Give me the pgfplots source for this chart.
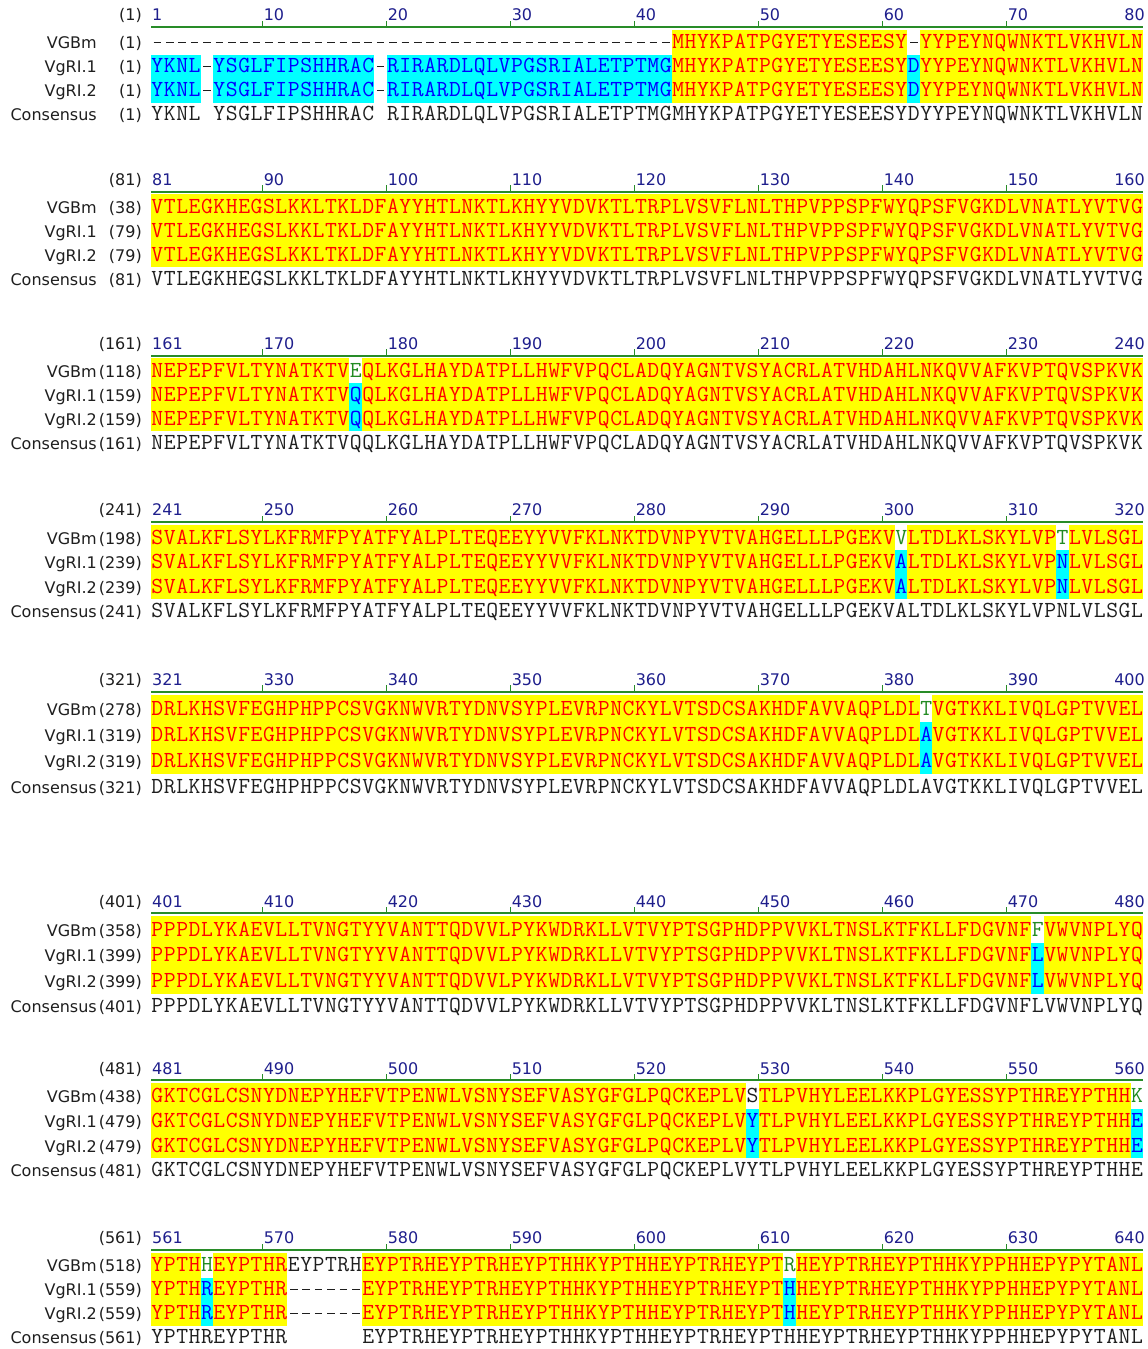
\documentclass[border=0pt]{standalone}
\usepackage{pgfplots}
\pgfplotsset{compat=1.18}
\usepackage{fontspec}
\setmainfont{DejaVu Sans}
\newfontfamily\labfam{DejaVu Sans}
\definecolor{sred}{RGB}{255,0,0}
\definecolor{sblue}{RGB}{0,0,255}
\definecolor{sgreen}{RGB}{34,139,34}
\definecolor{sblack}{RGB}{30,30,30}
\definecolor{ybg}{RGB}{255,255,0}
\definecolor{cbg}{RGB}{0,255,255}
\definecolor{rulec}{RGB}{40,140,40}
\definecolor{numc}{RGB}{30,30,140}
\definecolor{labc}{RGB}{30,30,30}
\newcommand{\seqf}{\ttfamily\fontsize{23pt}{24pt}\selectfont}
\newcommand{\lf}{\labfam\fontsize{16pt}{19pt}\selectfont}
\def\seqchar#1{\ifx#1_\else\ifx#1-\raise5.5pt\hbox{\vrule width 7.5pt height 1.3pt depth 0pt}\else#1\fi\fi}
\def\seqloop#1{%
  \ifx#1\relax\else
    \hbox to 12.4pt{\hss\seqchar#1\hss}%
    \expandafter\seqloop
  \fi}
\newcommand{\sq}[1]{\seqloop#1\relax}
\newcommand{\Rd}[1]{\textcolor{sred}{\sq{#1}}}
\newcommand{\Bl}[1]{\textcolor{sblue}{\sq{#1}}}
\newcommand{\Gr}[1]{\textcolor{sgreen}{\sq{#1}}}
\newcommand{\Bk}[1]{\textcolor{sblack}{\sq{#1}}}
\tikzset{num/.style={anchor=base west, inner sep=0pt, font=\lf, text=numc},
         labn/.style={anchor=base east, inner sep=0pt, font=\lf, text=labc}}
\pgfplotsset{blk/.style={scale only axis, width=1148pt, xmin=0, xmax=1148, ymin=0,
  y dir=reverse, hide axis, clip=false, anchor=north west}}
\newcommand{\bgr}[5]{\addplot[fill=#1, draw=none] coordinates {(#2,#3) (#4,#3) (#4,#5) (#2,#5)} -- cycle;}
\newcommand{\row}[2]{\node[anchor=base west, inner sep=0pt, font=\seqf] at (axis cs:151,#1) {#2};}
\newcommand{\lab}[3]{\node[labn] at (axis cs:97,#1) {#2};\node[labn] at (axis cs:142,#1) {(#3)};}
\newcommand{\labs}[4]{\lab{48.5}{VGBm}{#1}\lab{72.5}{VgRI.1}{#2}\lab{96.5}{VgRI.2}{#3}\lab{120.5}{Consensus}{#4}}
\newcommand{\ruler}[9]{%
 \addplot[rulec, line width=2pt] coordinates {(151,26.7) (1143,26.7)};
 \addplot[rulec, line width=1.5pt] coordinates {(262.6,26.7) (262.6,20.5)};
 \addplot[rulec, line width=1.5pt] coordinates {(386.6,26.7) (386.6,20.5)};
 \addplot[rulec, line width=1.5pt] coordinates {(510.6,26.7) (510.6,20.5)};
 \addplot[rulec, line width=1.5pt] coordinates {(634.6,26.7) (634.6,20.5)};
 \addplot[rulec, line width=1.5pt] coordinates {(758.6,26.7) (758.6,20.5)};
 \addplot[rulec, line width=1.5pt] coordinates {(882.6,26.7) (882.6,20.5)};
 \addplot[rulec, line width=1.5pt] coordinates {(1006.6,26.7) (1006.6,20.5)};
 \node[num] at (axis cs:152,20.7) {#1};
 \node[num] at (axis cs:263.6,20.7) {#2};
 \node[num] at (axis cs:387.6,20.7) {#3};
 \node[num] at (axis cs:511.6,20.7) {#4};
 \node[num] at (axis cs:635.6,20.7) {#5};
 \node[num] at (axis cs:759.6,20.7) {#6};
 \node[num] at (axis cs:883.6,20.7) {#7};
 \node[num] at (axis cs:1007.6,20.7) {#8};
 \node[num, anchor=base east] at (axis cs:1145,20.7) {#9};
 \node[labn] at (axis cs:142,20.7) {(#1)};
}
\newcommand{\bbox}[1]{\addplot[draw=none] coordinates {(0,0) (1148,#1)};}
\begin{document}
\begin{tikzpicture}
% ---------------- block 1
\begin{axis}[blk, at={(0pt,0pt)}, height=130pt, ymax=130]
\bbox{130}
\bgr{ybg}{671.8}{29.5}{1143}{102.5}
\bgr{white}{907.4}{29.5}{919.8}{54.5}
\bgr{cbg}{151}{54.5}{200.6}{102.5}
\bgr{cbg}{213}{54.5}{374.2}{102.5}
\bgr{cbg}{386.6}{54.5}{671.8}{102.5}
\bgr{cbg}{907.4}{54.5}{919.8}{102.5}
\ruler{1}{10}{20}{30}{40}{50}{60}{70}{80}
\labs{1}{1}{1}{1}
\row{48.5}{\Bk{------------------------------------------}\Rd{MHYKPATPGYETYESEESY}\Bk{-}\Rd{YYPEYNQWNKTLVKHVLN}}
\row{72.5}{\Bl{YKNL}\Bk{-}\Bl{YSGLFIPSHHRAC}\Bk{-}\Bl{RIRARDLQLVPGSRIALETPTMG}\Rd{MHYKPATPGYETYESEESY}\Bl{D}\Rd{YYPEYNQWNKTLVKHVLN}}
\row{96.5}{\Bl{YKNL}\Bk{-}\Bl{YSGLFIPSHHRAC}\Bk{-}\Bl{RIRARDLQLVPGSRIALETPTMG}\Rd{MHYKPATPGYETYESEESY}\Bl{D}\Rd{YYPEYNQWNKTLVKHVLN}}
\row{120.5}{\Bk{YKNL_YSGLFIPSHHRAC_RIRARDLQLVPGSRIALETPTMGMHYKPATPGYETYESEESYDYYPEYNQWNKTLVKHVLN}}
\end{axis}
% ---------------- block 2
\begin{axis}[blk, at={(0pt,-164.8pt)}, height=130pt, ymax=130]
\bbox{130}
\bgr{ybg}{151}{29.5}{1143}{102.5}
\ruler{81}{90}{100}{110}{120}{130}{140}{150}{160}
\labs{38}{79}{79}{81}
\row{48.5}{\Rd{VTLEGKHEGSLKKLTKLDFAYYHTLNKTLKHYYVDVKTLTRPLVSVFLNLTHPVPPSPFWYQPSFVGKDLVNATLYVTVG}}
\row{72.5}{\Rd{VTLEGKHEGSLKKLTKLDFAYYHTLNKTLKHYYVDVKTLTRPLVSVFLNLTHPVPPSPFWYQPSFVGKDLVNATLYVTVG}}
\row{96.5}{\Rd{VTLEGKHEGSLKKLTKLDFAYYHTLNKTLKHYYVDVKTLTRPLVSVFLNLTHPVPPSPFWYQPSFVGKDLVNATLYVTVG}}
\row{120.5}{\Bk{VTLEGKHEGSLKKLTKLDFAYYHTLNKTLKHYYVDVKTLTRPLVSVFLNLTHPVPPSPFWYQPSFVGKDLVNATLYVTVG}}
\end{axis}
% ---------------- block 3
\begin{axis}[blk, at={(0pt,-328.8pt)}, height=130pt, ymax=130]
\bbox{130}
\bgr{ybg}{151}{29.5}{1143}{102.5}
\bgr{white}{349.4}{29.5}{361.8}{54.5}
\bgr{cbg}{349.4}{54.5}{361.8}{102.5}
\ruler{161}{170}{180}{190}{200}{210}{220}{230}{240}
\labs{118}{159}{159}{161}
\row{48.5}{\Rd{NEPEPFVLTYNATKTV}\Gr{E}\Rd{QLKGLHAYDATPLLHWFVPQCLADQYAGNTVSYACRLATVHDAHLNKQVVAFKVPTQVSPKVK}}
\row{72.5}{\Rd{NEPEPFVLTYNATKTV}\Bl{Q}\Rd{QLKGLHAYDATPLLHWFVPQCLADQYAGNTVSYACRLATVHDAHLNKQVVAFKVPTQVSPKVK}}
\row{96.5}{\Rd{NEPEPFVLTYNATKTV}\Bl{Q}\Rd{QLKGLHAYDATPLLHWFVPQCLADQYAGNTVSYACRLATVHDAHLNKQVVAFKVPTQVSPKVK}}
\row{120.5}{\Bk{NEPEPFVLTYNATKTVQQLKGLHAYDATPLLHWFVPQCLADQYAGNTVSYACRLATVHDAHLNKQVVAFKVPTQVSPKVK}}
\end{axis}
% ---------------- block 4
\begin{axis}[blk, at={(0pt,-494.6pt)}, height=132.6pt, ymax=130]
\bbox{130}
\bgr{ybg}{151}{29.5}{1143}{102.5}
\bgr{white}{895}{29.5}{907.4}{54.5}
\bgr{white}{1056.2}{29.5}{1068.6}{54.5}
\bgr{cbg}{895}{54.5}{907.4}{102.5}
\bgr{cbg}{1056.2}{54.5}{1068.6}{102.5}
\ruler{241}{250}{260}{270}{280}{290}{300}{310}{320}
\labs{198}{239}{239}{241}
\row{48.5}{\Rd{SVALKFLSYLKFRMFPYATFYALPLTEQEEYYVVFKLNKTDVNPYVTVAHGELLLPGEKV}\Gr{V}\Rd{LTDLKLSKYLVP}\Gr{T}\Rd{LVLSGL}}
\row{72.5}{\Rd{SVALKFLSYLKFRMFPYATFYALPLTEQEEYYVVFKLNKTDVNPYVTVAHGELLLPGEKV}\Bl{A}\Rd{LTDLKLSKYLVP}\Bl{N}\Rd{LVLSGL}}
\row{96.5}{\Rd{SVALKFLSYLKFRMFPYATFYALPLTEQEEYYVVFKLNKTDVNPYVTVAHGELLLPGEKV}\Bl{A}\Rd{LTDLKLSKYLVP}\Bl{N}\Rd{LVLSGL}}
\row{120.5}{\Bk{SVALKFLSYLKFRMFPYATFYALPLTEQEEYYVVFKLNKTDVNPYVTVAHGELLLPGEKVALTDLKLSKYLVPNLVLSGL}}
\end{axis}
% ---------------- block 5
\begin{axis}[blk, at={(0pt,-663.3pt)}, height=140.4pt, ymax=130]
\bbox{130}
\bgr{ybg}{151}{29.5}{1143}{102.5}
\bgr{white}{919.8}{29.5}{932.2}{54.5}
\bgr{cbg}{919.8}{54.5}{932.2}{102.5}
\ruler{321}{330}{340}{350}{360}{370}{380}{390}{400}
\labs{278}{319}{319}{321}
\row{48.5}{\Rd{DRLKHSVFEGHPHPPCSVGKNWVRTYDNVSYPLEVRPNCKYLVTSDCSAKHDFAVVAQPLDL}\Gr{T}\Rd{VGTKKLIVQLGPTVVEL}}
\row{72.5}{\Rd{DRLKHSVFEGHPHPPCSVGKNWVRTYDNVSYPLEVRPNCKYLVTSDCSAKHDFAVVAQPLDL}\Bl{A}\Rd{VGTKKLIVQLGPTVVEL}}
\row{96.5}{\Rd{DRLKHSVFEGHPHPPCSVGKNWVRTYDNVSYPLEVRPNCKYLVTSDCSAKHDFAVVAQPLDL}\Bl{A}\Rd{VGTKKLIVQLGPTVVEL}}
\row{120.5}{\Bk{DRLKHSVFEGHPHPPCSVGKNWVRTYDNVSYPLEVRPNCKYLVTSDCSAKHDFAVVAQPLDLAVGTKKLIVQLGPTVVEL}}
\end{axis}
% ---------------- block 6
\begin{axis}[blk, at={(0pt,-885.1pt)}, height=137.8pt, ymax=130]
\bbox{130}
\bgr{ybg}{151}{29.5}{1143}{102.5}
\bgr{white}{1031.4}{29.5}{1043.8}{54.5}
\bgr{cbg}{1031.4}{54.5}{1043.8}{102.5}
\ruler{401}{410}{420}{430}{440}{450}{460}{470}{480}
\labs{358}{399}{399}{401}
\row{48.5}{\Rd{PPPDLYKAEVLLTVNGTYYVANTTQDVVLPYKWDRKLLVTVYPTSGPHDPPVVKLTNSLKTFKLLFDGVNF}\Gr{F}\Rd{VWVNPLYQ}}
\row{72.5}{\Rd{PPPDLYKAEVLLTVNGTYYVANTTQDVVLPYKWDRKLLVTVYPTSGPHDPPVVKLTNSLKTFKLLFDGVNF}\Bl{L}\Rd{VWVNPLYQ}}
\row{96.5}{\Rd{PPPDLYKAEVLLTVNGTYYVANTTQDVVLPYKWDRKLLVTVYPTSGPHDPPVVKLTNSLKTFKLLFDGVNF}\Bl{L}\Rd{VWVNPLYQ}}
\row{120.5}{\Bk{PPPDLYKAEVLLTVNGTYYVANTTQDVVLPYKWDRKLLVTVYPTSGPHDPPVVKLTNSLKTFKLLFDGVNFLVWVNPLYQ}}
\end{axis}
% ---------------- block 7
\begin{axis}[blk, at={(0pt,-1052.7pt)}, height=133.9pt, ymax=130]
\bbox{130}
\bgr{ybg}{151}{29.5}{1143}{102.5}
\bgr{white}{746.2}{29.5}{758.6}{54.5}
\bgr{white}{1130.6}{29.5}{1143}{54.5}
\bgr{cbg}{746.2}{54.5}{758.6}{102.5}
\bgr{cbg}{1130.6}{54.5}{1143}{102.5}
\ruler{481}{490}{500}{510}{520}{530}{540}{550}{560}
\labs{438}{479}{479}{481}
\row{48.5}{\Rd{GKTCGLCSNYDNEPYHEFVTPENWLVSNYSEFVASYGFGLPQCKEPLV}\Bk{S}\Rd{TLPVHYLEELKKPLGYESSYPTHREYPTHH}\Gr{K}}
\row{72.5}{\Rd{GKTCGLCSNYDNEPYHEFVTPENWLVSNYSEFVASYGFGLPQCKEPLV}\Bl{Y}\Rd{TLPVHYLEELKKPLGYESSYPTHREYPTHH}\Bl{E}}
\row{96.5}{\Rd{GKTCGLCSNYDNEPYHEFVTPENWLVSNYSEFVASYGFGLPQCKEPLV}\Bl{Y}\Rd{TLPVHYLEELKKPLGYESSYPTHREYPTHH}\Bl{E}}
\row{120.5}{\Bk{GKTCGLCSNYDNEPYHEFVTPENWLVSNYSEFVASYGFGLPQCKEPLVYTLPVHYLEELKKPLGYESSYPTHREYPTHHE}}
\end{axis}
% ---------------- block 8
\begin{axis}[blk, at={(0pt,-1223pt)}, height=126pt, ymax=126]
\bbox{126}
\bgr{ybg}{151}{29.5}{287.4}{102.5}
\bgr{ybg}{361.8}{29.5}{1143}{102.5}
\bgr{white}{200.6}{29.5}{213}{54.5}
\bgr{white}{783.4}{29.5}{795.8}{54.5}
\bgr{cbg}{200.6}{54.5}{213}{102.5}
\bgr{cbg}{783.4}{54.5}{795.8}{102.5}
\ruler{561}{570}{580}{590}{600}{610}{620}{630}{640}
\labs{518}{559}{559}{561}
\row{48.5}{\Rd{YPTH}\Gr{H}\Rd{EYPTHR}\Bk{EYPTRH}\Rd{EYPTRHEYPTRHEYPTHHKYPTHHEYPTRHEYPT}\Gr{R}\Rd{HEYPTRHEYPTHHKYPPHHEPYPYTANL}}
\row{72.5}{\Rd{YPTH}\Bl{R}\Rd{EYPTHR}\Bk{------}\Rd{EYPTRHEYPTRHEYPTHHKYPTHHEYPTRHEYPT}\Bl{H}\Rd{HEYPTRHEYPTHHKYPPHHEPYPYTANL}}
\row{96.5}{\Rd{YPTH}\Bl{R}\Rd{EYPTHR}\Bk{------}\Rd{EYPTRHEYPTRHEYPTHHKYPTHHEYPTRHEYPT}\Bl{H}\Rd{HEYPTRHEYPTHHKYPPHHEPYPYTANL}}
\row{120.5}{\Bk{YPTHREYPTHR______EYPTRHEYPTRHEYPTHHKYPTHHEYPTRHEYPTHHEYPTRHEYPTHHKYPPHHEPYPYTANL}}
\end{axis}
\end{tikzpicture}
\end{document}
